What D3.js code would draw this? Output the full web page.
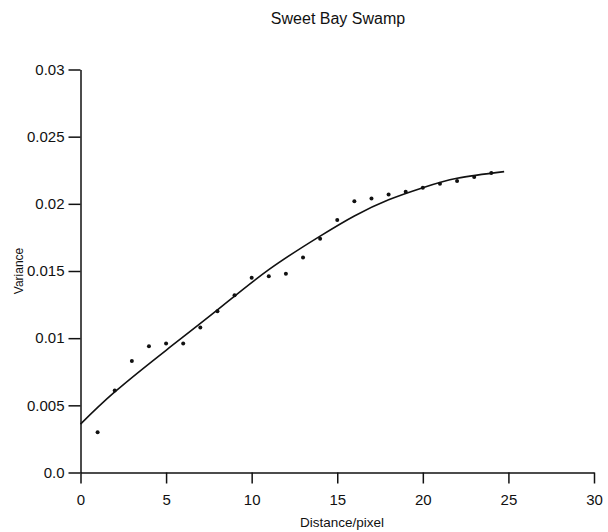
<!DOCTYPE html>
<html>
<head>
<meta charset="utf-8">
<script src="https://cdn.jsdelivr.net/npm/d3@7"></script>
<style>
  body { margin: 0; background: #fff; }
  svg { display: block; }
  text { font-family: "Liberation Sans", Arial, Helvetica, sans-serif; fill: #111; }
</style>
</head>
<body>
<div id="chart"></div>
<script>
// Observed variance per lag distance (points)
const distances = [1, 2, 3, 4, 5, 6, 7, 8, 9, 10, 11, 12, 13, 14, 15, 16, 17, 18, 19, 20, 21, 22, 23, 24];
const variances = [0.0030, 0.0061, 0.0083, 0.0094, 0.0096, 0.0096, 0.0108, 0.0120, 0.0132, 0.0145, 0.0146, 0.0148,
                   0.0160, 0.0174, 0.0188, 0.0202, 0.0204, 0.0207, 0.0209, 0.0212, 0.0215, 0.0217, 0.0220, 0.0223];

// Fitted model curve
const fitDistances = [0, 2, 5, 8, 11, 14, 16, 18, 20, 22, 24.75];
const fitVariances = [0.0036, 0.0060, 0.0091, 0.0121, 0.0151, 0.0176, 0.0191, 0.0203, 0.0212, 0.0219, 0.0224];

// Tick labels
const xTicks = [0, 5, 10, 15, 20, 25, 30];
const yTicks = [0, 0.005, 0.01, 0.015, 0.02, 0.025, 0.03];
const yTickLabels = ["0.0", "0.005", "0.01", "0.015", "0.02", "0.025", "0.03"];

const config = {
  width  : 608,
  height : 532,
  x0     : 80.5,
  x1     : 594,
  y0     : 472.5,
  y1     : 69.5
};

const svg = d3.select("#chart")
  .append("svg")
    .attr("width", config.width)
    .attr("height", config.height);

const x = d3.scaleLinear().domain([0, 30]).range([config.x0, config.x1]);
const y = d3.scaleLinear().domain([0, 0.03]).range([config.y0, config.y1]);

// Axes
const xAxis = svg.append("g")
  .attr("transform", "translate(0," + config.y0 + ")")
  .call(d3.axisBottom(x).tickValues(xTicks).tickFormat(d3.format("d")).tickSize(11).tickSizeOuter(0).tickPadding(11));

const yAxis = svg.append("g")
  .attr("transform", "translate(" + config.x0 + ",0)")
  .call(d3.axisLeft(y).tickValues(yTicks).tickFormat((d, i) => yTickLabels[i]).tickSize(12).tickSizeOuter(0).tickPadding(4));

[xAxis, yAxis].forEach(function(g) {
  g.selectAll("path, line").attr("stroke", "#111").attr("stroke-width", 1.5);
  g.selectAll("text").style("font-size", "15px").attr("fill", "#111");
});

// Fitted line
const line = d3.line()
  .x((d, i) => x(fitDistances[i]))
  .y(d => y(d))
  .curve(d3.curveNatural);

svg.append("path")
  .datum(fitVariances)
  .attr("d", line)
  .attr("fill", "none")
  .attr("stroke", "#111")
  .attr("stroke-width", 1.6);

// Points
svg.selectAll(".pt")
  .data(variances)
  .enter()
  .append("circle")
    .attr("class", "pt")
    .attr("cx", (d, i) => x(distances[i]))
    .attr("cy", d => y(d))
    .attr("r", 2)
    .attr("fill", "#111");

// Titles
svg.append("text")
  .attr("x", 338)
  .attr("y", 24)
  .attr("text-anchor", "middle")
  .style("font-size", "16px")
  .text("Sweet Bay Swamp");

svg.append("text")
  .attr("x", 342)
  .attr("y", 527)
  .attr("text-anchor", "middle")
  .style("font-size", "13.5px")
  .text("Distance/pixel");

svg.append("text")
  .attr("transform", "translate(23,271) rotate(-90)")
  .attr("text-anchor", "middle")
  .style("font-size", "12px")
  .text("Variance");
</script>
</body>
</html>
